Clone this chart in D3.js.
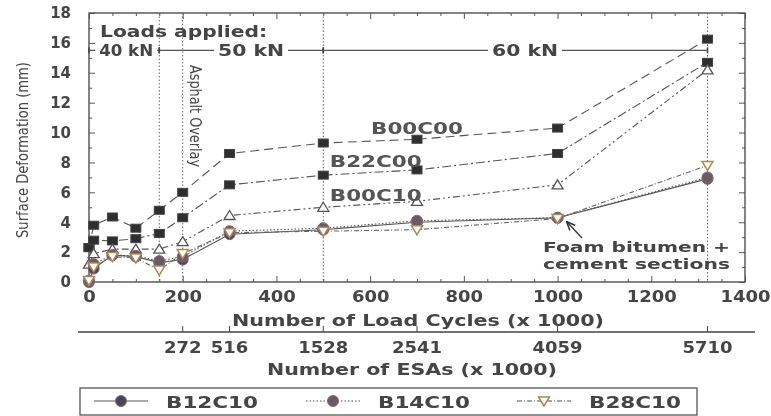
<!DOCTYPE html>
<html>
<head>
<meta charset="utf-8">
<script src="https://cdn.jsdelivr.net/npm/d3@7"></script>
<style>
  body { margin: 0; background: #fff; }
  svg text { font-family: "DejaVu Sans", Arial, sans-serif; fill: #444; font-weight: bold; }
</style>
</head>
<body>
<svg id="chart" width="771" height="416"></svg>
<script>
// load cycles (x 1000) where readings were taken
const cycles = [0, 10, 50, 100, 150, 200, 300, 500, 700, 1000, 1320];
// surface deformation (mm) per section
const b00c00 = [2.3, 3.8, 4.35, 3.6, 4.8, 6.0, 8.6, 9.3, 9.55, 10.3, 16.25];
const b22c00 = [2.3, 2.8, 2.75, 2.9, 3.25, 4.3, 6.5, 7.15, 7.5, 8.6, 14.7];
const b00c10 = [1.2, 1.9, 2.2, 2.2, 2.2, 2.7, 4.45, 5.0, 5.4, 6.5, 14.2];
const b12c10 = [0.0, 0.9, 1.8, 1.7, 1.3, 1.5, 3.2, 3.5, 4.0, 4.3, 6.9];
const b14c10 = [0.1, 1.2, 1.8, 1.75, 1.4, 1.7, 3.4, 3.6, 4.1, 4.3, 7.0];
const b28c10 = [0.1, 1.0, 1.7, 1.6, 0.8, 1.9, 3.3, 3.4, 3.5, 4.25, 7.8];

// secondary axis: ESAs at given load cycles
const esaAt = [200, 300, 500, 700, 1000, 1320];
const esaLabels = ["272", "516", "1528", "2541", "4059", "5710"];

// load stages
const loadStages = ["40 kN", "50 kN", "60 kN"];
const loadStarts = [0, 150, 500];
const loadEnds = [150, 500, 1320];

const guideLines = [150, 200, 500, 1320];

const series = [
  { name: "B00C00", values: b00c00, dash: "9,5", marker: "square", col: "#333" },
  { name: "B22C00", values: b22c00, dash: "9,3,2,3", marker: "square", col: "#333" },
  { name: "B00C10", values: b00c10, dash: "7,3,2,3,2,3", marker: "tri", col: "#555" },
  { name: "B12C10", values: b12c10, dash: null, marker: "circle", col: "#4a4656" },
  { name: "B14C10", values: b14c10, dash: "1.5,2", marker: "circle", col: "#6a5a66" },
  { name: "B28C10", values: b28c10, dash: "5,2,1,2", marker: "dtri", col: "#a98a5a" }
];

const svg = d3.select("#chart");
const defs = svg.append("defs");
defs.append("filter").attr("id", "soft")
  .append("feGaussianBlur").attr("stdDeviation", 0.45);
defs.append("marker").attr("id", "arrow").attr("viewBox", "0 0 10 10")
  .attr("refX", 9).attr("refY", 5).attr("markerWidth", 7).attr("markerHeight", 7)
  .attr("orient", "auto")
  .append("path").attr("d", "M0,1 L10,5 L0,9").attr("fill", "none").attr("stroke", "#333").attr("stroke-width", 1.6);

const g = svg.append("g").attr("filter", "url(#soft)");

const x = d3.scaleLinear().domain([0, 1400]).range([89, 745]);
const y = d3.scaleLinear().domain([0, 18]).range([282, 13]);

// frame
g.append("rect").attr("x", x(0)).attr("y", y(18))
  .attr("width", x(1400) - x(0)).attr("height", y(0) - y(18))
  .attr("fill", "none").attr("stroke", "#444").attr("stroke-width", 1.3);

// inward ticks on all four sides
function ticks(axis, tr, vals, size) {
  g.append("g").attr("transform", tr)
    .call(axis.tickValues(vals).tickSizeInner(size).tickSizeOuter(0).tickFormat(""))
    .call(a => a.select(".domain").remove())
    .selectAll("line").attr("stroke", "#555");
}
ticks(d3.axisBottom(x), `translate(0,${y(0)})`, d3.range(0, 1401, 200), -6);
ticks(d3.axisBottom(x), `translate(0,${y(0)})`, d3.range(50, 1400, 50).filter(v => v % 200), -3);
ticks(d3.axisTop(x), `translate(0,${y(18)})`, d3.range(0, 1401, 200), -6);
ticks(d3.axisTop(x), `translate(0,${y(18)})`, d3.range(50, 1400, 50).filter(v => v % 200), -3);
ticks(d3.axisLeft(y), `translate(${x(0)},0)`, d3.range(0, 19, 2), -6);
ticks(d3.axisLeft(y), `translate(${x(0)},0)`, d3.range(1, 18, 2), -3);
ticks(d3.axisRight(y), `translate(${x(1400)},0)`, d3.range(0, 19, 2), -6);
ticks(d3.axisRight(y), `translate(${x(1400)},0)`, d3.range(1, 18, 2), -3);

// tick labels
const xl = g.append("g").attr("transform", `translate(0,${y(0)})`)
  .call(d3.axisBottom(x).tickValues(d3.range(0, 1401, 200)).tickFormat(d3.format("d")).tickSize(0).tickPadding(9));
xl.select(".domain").remove();
xl.selectAll("text").attr("font-size", 15).style("fill", "#444")
  .style("font-family", "DejaVu Sans").attr("transform", "scale(1.2,1)");

const yl = g.append("g").attr("transform", `translate(${x(0) - 18},0)`)
  .call(d3.axisLeft(y).tickValues(d3.range(0, 19, 2)).tickSize(0).tickPadding(0));
yl.select(".domain").remove();
yl.selectAll("text").attr("font-size", 15).style("fill", "#444")
  .style("font-family", "DejaVu Sans");

// axis titles
function stretched(sel, w) {
  return sel.attr("textLength", w).attr("lengthAdjust", "spacingAndGlyphs");
}
stretched(g.append("text").attr("x", 418).attr("y", 326).attr("text-anchor", "middle")
  .attr("font-size", 16).text("Number of Load Cycles (x 1000)"), 372);

stretched(g.append("text").attr("transform", "translate(28,150) rotate(-90)")
  .attr("text-anchor", "middle").attr("font-size", 15).style("font-weight", "normal")
  .style("font-family", "'Liberation Sans Narrow', 'DejaVu Sans Condensed', sans-serif")
  .text("Surface Deformation (mm)"), 176);

// secondary ESA axis
const esa = g.append("g").attr("transform", "translate(0,332)");
esa.append("line").attr("x1", 78).attr("x2", 755).attr("stroke", "#444").attr("stroke-width", 1.3);
esa.selectAll(".t").data(esaAt).join("line")
  .attr("x1", d => x(d)).attr("x2", d => x(d)).attr("y1", 0).attr("y2", -6)
  .attr("stroke", "#444");
esa.selectAll(".l").data(esaAt).join("text")
  .attr("transform", d => `translate(${x(d)},21) scale(1.2,1)`)
  .attr("text-anchor", "middle").attr("font-size", 15)
  .text((d, i) => esaLabels[i]);
stretched(g.append("text").attr("x", 412).attr("y", 375).attr("text-anchor", "middle")
  .attr("font-size", 16).text("Number of ESAs (x 1000)"), 290);

// guide lines
g.selectAll(".guide").data(guideLines).join("line")
  .attr("x1", d => x(d)).attr("x2", d => x(d)).attr("y1", y(18)).attr("y2", y(0))
  .attr("stroke", "#666").attr("stroke-width", 1).attr("stroke-dasharray", "1.5,2");

// load stages
const ly = y(15.5);
loadStages.forEach((lab, i) => {
  const a = x(loadStarts[i]), b = x(loadEnds[i]);
  g.append("line").attr("x1", a).attr("x2", b).attr("y1", ly).attr("y2", ly)
    .attr("stroke", "#555").attr("stroke-width", 1.2);
  [a, b].forEach(p => g.append("line").attr("x1", p).attr("x2", p)
    .attr("y1", ly - 3).attr("y2", ly + 3).attr("stroke", "#444").attr("stroke-width", 1.5));
  const cx = i === 0 ? (a + b) / 2 + 2 : i === 1 ? 251 : 525;
  const w = i === 0 ? 54 : 66;
  g.append("rect").attr("x", cx - w / 2 - 4).attr("y", ly - 8).attr("width", w + 8).attr("height", 16)
    .attr("fill", "#fff");
  stretched(g.append("text").attr("x", cx).attr("y", ly + 6).attr("text-anchor", "middle")
    .attr("font-size", 16).text(lab), w);
});
stretched(g.append("text").attr("x", 100).attr("y", 37).attr("font-size", 16).text("Loads applied:"), 167);

stretched(g.append("text").attr("transform", `translate(190,116) rotate(90)`)
  .attr("text-anchor", "middle").attr("font-size", 16).style("font-weight", "normal")
  .style("font-family", "'Liberation Sans Narrow', 'DejaVu Sans Condensed', sans-serif")
  .text("Asphalt Overlay"), 102);

// series lines
const line = d3.line().x((d, i) => x(cycles[i])).y(d => y(d));
series.forEach(s => {
  g.append("path").datum(s.values).attr("d", line)
    .attr("fill", "none").attr("stroke", s.name === "B28C10" ? "#666" : "#555")
    .attr("stroke-width", 1.1).attr("stroke-dasharray", s.dash);
});

function drawMarker(sel, s, px, py) {
  if (s.marker === "square") {
    sel.append("rect").attr("x", px - 5).attr("y", py - 4).attr("width", 10).attr("height", 8)
      .attr("fill", "#2e2e2e").attr("stroke", "#444");
  } else if (s.marker === "tri") {
    sel.append("path").attr("d", `M${px},${py - 5}L${px + 5.5},${py + 4}L${px - 5.5},${py + 4}Z`)
      .attr("fill", "#fff").attr("stroke", s.col).attr("stroke-width", 1.3);
  } else if (s.marker === "dtri") {
    sel.append("path").attr("d", `M${px},${py + 5}L${px + 5.5},${py - 4}L${px - 5.5},${py - 4}Z`)
      .attr("fill", "#fff").attr("stroke", s.col).attr("stroke-width", 1.5);
  } else {
    sel.append("circle").attr("cx", px).attr("cy", py).attr("r", 5.5)
      .attr("fill", s.col).attr("stroke", "#8a6a70").attr("stroke-width", 1);
  }
}
series.forEach(s => {
  const mg = g.append("g");
  s.values.forEach((v, i) => drawMarker(mg, s, x(cycles[i]), y(v)));
});

// series labels
[["B00C00", 700, 10.3], ["B22C00", 612, 8.1], ["B00C10", 612, 5.8]].forEach(([t, cx, cy]) => {
  stretched(g.append("text").attr("x", x(cx)).attr("y", y(cy) + 6).attr("text-anchor", "middle")
    .attr("font-size", 15).style("fill", "#555").text(t), 92);
});

// foam bitumen note
stretched(g.append("text").attr("x", 543).attr("y", 252).attr("font-size", 14).text("Foam bitumen +"), 187);
stretched(g.append("text").attr("x", 543).attr("y", 269).attr("font-size", 14).text("cement sections"), 187);
g.append("line").attr("x1", 582).attr("y1", 238).attr("x2", 567).attr("y2", 222)
  .attr("stroke", "#333").attr("stroke-width", 1.3).attr("marker-end", "url(#arrow)");

// legend (only the visible row)
const legendItems = series.slice(3);
const legX = [94, 306, 517];
const lg = g.append("g");
lg.append("rect").attr("x", 80).attr("y", 388).attr("width", 617).attr("height", 27)
  .attr("fill", "none").attr("stroke", "#555").attr("stroke-width", 1.3);
legendItems.forEach((s, i) => {
  const lx = legX[i];
  lg.append("line").attr("x1", lx).attr("x2", lx + 54).attr("y1", 401).attr("y2", 401)
    .attr("stroke", "#555").attr("stroke-width", 1.2).attr("stroke-dasharray", s.dash);
  drawMarker(lg, s, lx + 27, 401);
  stretched(lg.append("text").attr("x", lx + 72).attr("y", 408).attr("font-size", 16).text(s.name), 92);
});
</script>
</body>
</html>
